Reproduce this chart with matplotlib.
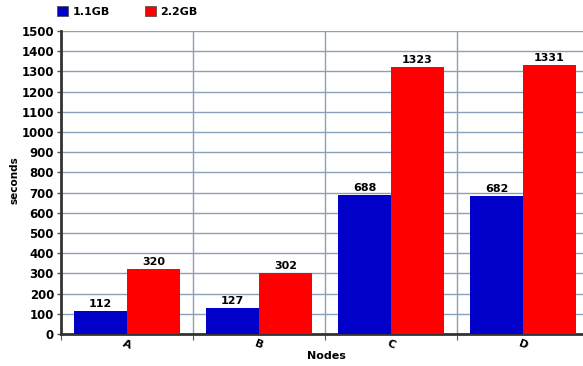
import matplotlib.pyplot as plt
import numpy as np

nodes = ['A', 'B', 'C', 'D']
size_1gb = [112, 127, 688, 682]
size_2gb = [320, 302, 1323, 1331]
series_names = ['1.1GB', '2.2GB']
colors = ['#0000c8', '#ff0000']

plt.rcParams['font.family'] = 'DejaVu Sans'
plt.rcParams['font.weight'] = 'bold'
plt.rcParams['axes.labelweight'] = 'bold'

fig = plt.figure(figsize=(5.83, 3.66), dpi=100)
ax = fig.add_axes([61 / 583, 1 - 334 / 366, 528 / 583, 303 / 366])

x = np.arange(len(nodes)) + 0.5
w = 0.4
b1 = ax.bar(x - w / 2, size_1gb, w, color=colors[0], zorder=3)
b2 = ax.bar(x + w / 2, size_2gb, w, color=colors[1], zorder=3)

for bars, vals in ((b1, size_1gb), (b2, size_2gb)):
    for bar, v in zip(bars, vals):
        ax.text(bar.get_x() + bar.get_width() / 2, v + 10, str(v),
                ha='center', va='bottom', fontsize=8, fontweight='bold')

ax.set_xlim(0, 4)
ax.set_ylim(0, 1500)
ax.set_yticks(range(0, 1501, 100))
ax.tick_params(axis='y', labelsize=8.5, length=3, width=1, color='#555555', pad=2)

# category boundaries carry the ticks and grid, names sit in the middle
ax.set_xticks(range(0, 5))
ax.set_xticklabels([])
ax.set_xticks(x, minor=True)
ax.set_xticklabels(nodes, minor=True, rotation=-20, fontsize=8)
ax.tick_params(axis='x', which='major', length=4, color='#555555')
ax.tick_params(axis='x', which='minor', length=0, pad=3)

ax.grid(True, which='major', color='#8aa0b8', linewidth=1, zorder=0)
for side in ('top', 'right'):
    ax.spines[side].set_visible(False)
ax.spines['left'].set_color('#333333')
ax.spines['left'].set_linewidth(2)
ax.spines['bottom'].set_color('#333333')
ax.spines['bottom'].set_linewidth(2)

fig.text(14 / 583, 1 - 180 / 366, 'seconds', rotation=90, ha='center', va='center',
         fontsize=7.5, fontweight='bold')
fig.text(326 / 583, 1 - 356 / 366, 'Nodes', ha='center', va='center',
         fontsize=8, fontweight='bold')

handles = [plt.Rectangle((0, 0), 1, 1, color=c, ec='#444444', lw=0.5) for c in colors]
fig.legend(handles, series_names, loc='upper left', bbox_to_anchor=(0.08, 1.01),
           ncol=2, frameon=False, fontsize=8, handlelength=1, handleheight=1,
           handletextpad=0.4, columnspacing=3.2)

fig.savefig('out.png', dpi=100)
